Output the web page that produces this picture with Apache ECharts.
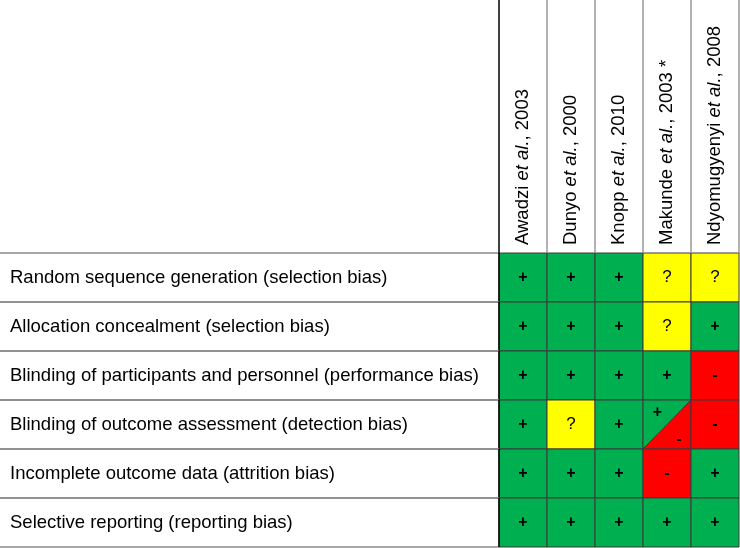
<!DOCTYPE html>
<html><head><meta charset="utf-8">
<script src="https://cdn.jsdelivr.net/npm/echarts@6/dist/echarts.min.js"></script>
<style>html,body{margin:0;padding:0;background:#fff}#c{width:740px;height:548px}</style>
</head><body><div id="c"></div>
<script>
const studyAuthors = ['Awadzi', 'Dunyo', 'Knopp', 'Makunde', 'Ndyomugyenyi'];
const studyYears = ['2003', '2000', '2010', '2003 *', '2008'];
const domains = [
  'Random sequence generation (selection bias)',
  'Allocation concealment (selection bias)',
  'Blinding of participants and personnel (performance bias)',
  'Blinding of outcome assessment (detection bias)',
  'Incomplete outcome data (attrition bias)',
  'Selective reporting (reporting bias)'
];
// ratings per study, one entry per domain: '+' low, '?' unclear, '-' high, '+/-' split
const awadzi = ['+', '+', '+', '+', '+', '+'];
const dunyo = ['+', '+', '+', '?', '+', '+'];
const knopp = ['+', '+', '+', '+', '+', '+'];
const makunde = ['?', '?', '+', '+/-', '-', '+'];
const ndyomugyenyi = ['?', '+', '-', '-', '+', '+'];
const ratings = [awadzi, dunyo, knopp, makunde, ndyomugyenyi];

const colors = { '+': '#00B050', '?': '#FFFF00', '-': '#FF0000' };
const data = [];
ratings.forEach((col, xi) => col.forEach((r, yi) => data.push([xi, yi, r])));

const chart = echarts.init(document.getElementById('c'), null, { renderer: 'canvas' });
const font = 'Liberation Sans, Arial, sans-serif';

function renderItem(params, api) {
  const xi = api.value(0), yi = api.value(1);
  const r = data[params.dataIndex][2];
  const c = api.coord([xi, yi]);
  const s = api.size([1, 1]);
  const x0 = c[0] - s[0] / 2, y0 = c[1] - s[1] / 2, w = s[0], h = s[1];
  const children = [];
  const txt = (t, x, y) => {
    const q = t === '?';
    return { type: 'text', style: { text: t, x: x, y: y, fill: '#000', font: (q ? 'normal 17px ' : 'bold 16px ') + font, align: 'center', verticalAlign: 'middle' } };
  };
  if (r === '+/-') {
    children.push({ type: 'polygon', shape: { points: [[x0, y0], [x0 + w, y0], [x0, y0 + h]] }, style: { fill: colors['+'] } });
    children.push({ type: 'polygon', shape: { points: [[x0 + w, y0], [x0 + w, y0 + h], [x0, y0 + h]] }, style: { fill: colors['-'] } });
    children.push({ type: 'line', shape: { x1: x0, y1: y0 + h, x2: x0 + w, y2: y0 }, style: { stroke: '#333', lineWidth: 1 } });
    children.push(txt('+', x0 + w * 0.3, y0 + h * 0.25));
    children.push(txt('-', x0 + w * 0.75, y0 + h * 0.8));
  } else {
    children.push({ type: 'rect', shape: { x: x0, y: y0, width: w, height: h }, style: { fill: colors[r] } });
    children.push(txt(r, c[0], c[1]));
  }
  children.push({ type: 'rect', shape: { x: x0, y: y0, width: w, height: h }, style: { fill: null, stroke: '#3a3a3a', lineWidth: 1 } });
  if (xi === 0) {
    children.push({ type: 'line', shape: { x1: 0, y1: y0, x2: x0, y2: y0 }, style: { stroke: '#8a8a8a', lineWidth: 1.5 } });
    children.push({ type: 'line', shape: { x1: 0, y1: y0 + h, x2: x0, y2: y0 + h }, style: { stroke: '#8a8a8a', lineWidth: 1.5 } });
    children.push({ type: 'line', shape: { x1: x0, y1: y0, x2: x0, y2: y0 + h }, style: { stroke: '#000', lineWidth: 1.5 } });
  }
  if (yi === 0) {
    children.push({ type: 'line', shape: { x1: x0, y1: 0, x2: x0, y2: y0 }, style: { stroke: xi === 0 ? '#000' : '#999', lineWidth: 1.5 } });
    if (xi === studyAuthors.length - 1) {
      children.push({ type: 'line', shape: { x1: x0 + w, y1: 0, x2: x0 + w, y2: y0 }, style: { stroke: '#999', lineWidth: 1.5 } });
    }
  }
  return { type: 'group', children: children };
}

chart.setOption({
  animation: false,
  grid: { left: 499, right: 1, top: 253, bottom: 1 },
  xAxis: {
    type: 'category', position: 'top', data: studyAuthors,
    axisLine: { show: false }, axisTick: { show: false }, splitLine: { show: false },
    axisLabel: {
      rotate: -90, margin: 8, interval: 0, color: '#000', fontSize: 18.5, fontFamily: font,
      formatter: (v, i) => v + ' {i|et al.}, ' + studyYears[i],
      rich: { i: { fontStyle: 'italic', fontSize: 18.5, fontFamily: font, color: '#000' } }
    }
  },
  yAxis: {
    type: 'category', inverse: true, data: domains,
    axisLine: { show: false }, axisTick: { show: false }, splitLine: { show: false },
    axisLabel: { align: 'left', margin: 489, color: '#000', fontSize: 18.5, fontFamily: font, interval: 0 }
  },
  series: [{ type: 'custom', renderItem: renderItem, data: data.map(d => [d[0], d[1]]), clip: false }]
});
</script></body></html>
